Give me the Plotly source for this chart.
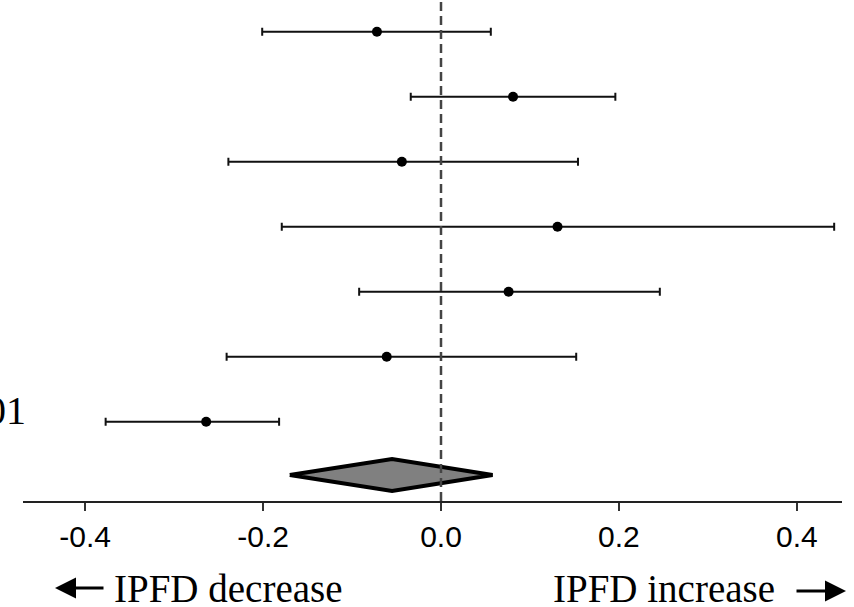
import plotly.graph_objects as go

# ---- data ----
study_labels = ["", "", "", "", "", "", "2001"]
effects = [-0.072, 0.081, -0.044, 0.131, 0.076, -0.061, -0.264]
ci_low = [-0.201, -0.034, -0.239, -0.179, -0.092, -0.241, -0.377]
ci_high = [0.056, 0.196, 0.154, 0.442, 0.246, 0.152, -0.182]
summary_est = -0.055
summary_low = -0.170
summary_high = 0.058
tick_vals = [-0.4, -0.2, 0.0, 0.2, 0.4]
tick_text = ["-0.4", "-0.2", "0.0", "0.2", "0.4"]
left_label = "IPFD decrease"
right_label = "IPFD increase"

# ---- layout geometry ----
W, H = 854, 607
ML, MR, MT, MB = 23, 12, 0, 106
PW, PH = W - ML - MR, H - MT - MB

rows = list(range(1, len(effects) + 1))
summary_row = 7.82
diamond_half = 0.246

def px2paper(px, py):
    return (px - ML) / PW, (H - MB - py) / PH

fig = go.Figure()

# dashed reference line at zero
fig.add_shape(type="line", xref="x", yref="paper", x0=0, x1=0, y0=0, y1=1,
              line=dict(color="#444444", width=2.5, dash="9px,5px"))

# study estimates with CIs
fig.add_trace(go.Scatter(
    x=effects, y=rows, mode="markers",
    marker=dict(color="black", size=10),
    error_x=dict(type="data", symmetric=False,
                 array=[h - e for h, e in zip(ci_high, effects)],
                 arrayminus=[e - l for e, l in zip(effects, ci_low)],
                 color="#111111", thickness=2, width=4),
    showlegend=False, hoverinfo="x"))

# summary diamond
fig.add_trace(go.Scatter(
    x=[summary_low, summary_est, summary_high, summary_est, summary_low],
    y=[summary_row, summary_row - diamond_half, summary_row, summary_row + diamond_half, summary_row],
    mode="lines", fill="toself", fillcolor="#808080",
    line=dict(color="black", width=4), showlegend=False, hoverinfo="skip"))

annotations = []
# study labels (left side, mostly cut off)
for lab, r in zip(study_labels, rows):
    if lab:
        annotations.append(dict(text=lab, x=(28 - ML) / PW, xref="paper", y=r - 0.18, yref="y",
                                xanchor="right", yanchor="middle", showarrow=False,
                                font=dict(family="Liberation Serif", size=40, color="black")))

# bottom direction labels
lx, ly = px2paper(112, 588)
annotations.append(dict(text=left_label, x=lx, y=ly, xref="paper", yref="paper",
                        xanchor="left", yanchor="middle", showarrow=False,
                        font=dict(family="Liberation Serif", size=39, color="black")))
rx, ry = px2paper(777, 588)
annotations.append(dict(text=right_label, x=rx, y=ry, xref="paper", yref="paper",
                        xanchor="right", yanchor="middle", showarrow=False,
                        font=dict(family="Liberation Serif", size=39, color="black")))
# arrows
ax1, ay1 = px2paper(55, 588)
annotations.append(dict(text="", x=ax1, y=ay1, xref="paper", yref="paper",
                        showarrow=True, ax=50, ay=0, axref="pixel", ayref="pixel",
                        arrowhead=2, arrowsize=1.4, arrowwidth=3, arrowcolor="black"))
ax2, ay2 = px2paper(846, 591)
annotations.append(dict(text="", x=ax2, y=ay2, xref="paper", yref="paper",
                        showarrow=True, ax=-51, ay=0, axref="pixel", ayref="pixel",
                        arrowhead=2, arrowsize=1.4, arrowwidth=3, arrowcolor="black"))

fig.update_layout(
    width=W, height=H,
    margin=dict(l=ML, r=MR, t=MT, b=MB),
    paper_bgcolor="white", plot_bgcolor="white",
    annotations=annotations,
    xaxis=dict(range=[-0.4699, 0.4508], tickvals=tick_vals, ticktext=tick_text,
               showgrid=False, zeroline=False, showline=True, linecolor="#222222", linewidth=1.5,
               ticks="outside", ticklen=8, tickwidth=1.5, tickcolor="#333333",
               tickfont=dict(family="Liberation Sans", size=30, color="black")),
    yaxis=dict(range=[8.22, 0.512], visible=False, showgrid=False, zeroline=False),
)

fig.write_html("out.html", config={"displayModeBar": False},
               post_script="document.body.style.margin='0';document.body.style.overflow='hidden';")
